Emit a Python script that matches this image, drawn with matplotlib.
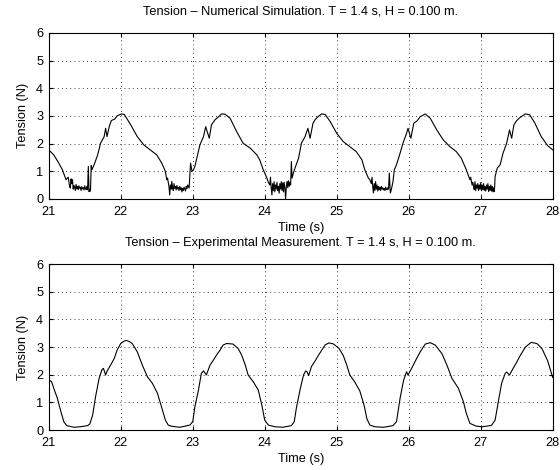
import matplotlib
matplotlib.use("Agg")
import matplotlib.pyplot as plt

plt.rcParams['font.family'] = ['Liberation Sans', 'DejaVu Sans']

# ---------------- data ----------------
sim_t = [21.00, 21.07, 21.14, 21.19, 21.24, 21.27, 21.29, 21.30, 21.31, 21.32, 21.33, 21.34, 21.35, 21.36,
         21.37, 21.38, 21.39, 21.40, 21.41, 21.42, 21.43, 21.44, 21.45, 21.46, 21.47, 21.48, 21.49, 21.50,
         21.51, 21.52, 21.53, 21.54, 21.55, 21.56, 21.57, 21.58, 21.59, 21.60, 21.63, 21.68, 21.72, 21.77,
         21.79, 21.81, 21.84, 21.87, 21.92, 21.95, 22.01, 22.05, 22.14, 22.23, 22.32, 22.41, 22.50, 22.57,
         22.62, 22.64, 22.65, 22.67, 22.68, 22.69, 22.70, 22.71, 22.72, 22.73, 22.74, 22.75, 22.76, 22.77,
         22.78, 22.79, 22.80, 22.81, 22.82, 22.83, 22.84, 22.85, 22.86, 22.87, 22.88, 22.89, 22.90, 22.91,
         22.92, 22.93, 22.95, 22.97, 22.99, 23.01, 23.03, 23.10, 23.15, 23.18, 23.23, 23.26, 23.31, 23.36,
         23.40, 23.45, 23.52, 23.61, 23.70, 23.80, 23.89, 23.93, 23.98, 24.03, 24.05, 24.07, 24.08, 24.09,
         24.10, 24.11, 24.12, 24.13, 24.14, 24.15, 24.16, 24.17, 24.18, 24.19, 24.20, 24.21, 24.22, 24.23,
         24.24, 24.25, 24.26, 24.27, 24.28, 24.29, 24.30, 24.31, 24.32, 24.33, 24.34, 24.35, 24.36, 24.37,
         24.38, 24.40, 24.42, 24.47, 24.51, 24.56, 24.60, 24.63, 24.67, 24.70, 24.74, 24.79, 24.84, 24.91,
         25.00, 25.09, 25.18, 25.27, 25.35, 25.39, 25.44, 25.46, 25.48, 25.49, 25.50, 25.51, 25.52, 25.53,
         25.54, 25.55, 25.56, 25.57, 25.58, 25.59, 25.60, 25.61, 25.62, 25.63, 25.64, 25.65, 25.66, 25.67,
         25.68, 25.69, 25.70, 25.71, 25.72, 25.73, 25.745, 25.76, 25.78, 25.80, 25.83, 25.88, 25.92, 25.97,
         25.99, 26.03, 26.07, 26.12, 26.16, 26.23, 26.30, 26.39, 26.48, 26.57, 26.66, 26.73, 26.80, 26.85,
         26.86, 26.88, 26.89, 26.90, 26.91, 26.92, 26.93, 26.94, 26.95, 26.96, 26.97, 26.98, 26.99, 27.00,
         27.01, 27.02, 27.03, 27.04, 27.05, 27.06, 27.07, 27.08, 27.09, 27.10, 27.11, 27.12, 27.13, 27.14,
         27.15, 27.16, 27.17, 27.18, 27.19, 27.20, 27.23, 27.27, 27.31, 27.36, 27.40, 27.43, 27.46, 27.50,
         27.55, 27.62, 27.68, 27.75, 27.84, 27.93, 28.00]
sim_y = [1.77, 1.59, 1.29, 1.05, 0.69, 0.78, 0.45, 0.39, 0.72, 0.55, 0.69, 0.35, 0.48, 0.42,
         0.30, 0.52, 0.36, 0.45, 0.33, 0.47, 0.38, 0.42, 0.30, 0.44, 0.36, 0.40, 0.32, 0.47,
         0.38, 0.33, 0.45, 0.33, 1.17, 0.26, 0.35, 0.28, 1.20, 1.05, 1.23, 1.59, 2.01, 2.25,
         2.55, 2.25, 2.61, 2.83, 2.89, 3.00, 3.07, 3.05, 2.67, 2.25, 1.95, 1.77, 1.59, 1.29,
         0.99, 0.69, 0.75, 0.45, 0.14, 0.50, 0.35, 0.63, 0.40, 0.30, 0.55, 0.38, 0.44, 0.32,
         0.48, 0.36, 0.42, 0.30, 0.45, 0.33, 0.40, 0.25, 0.38, 0.30, 0.42, 0.35, 0.28, 0.45,
         0.37, 0.50, 0.39, 1.29, 0.99, 1.05, 1.17, 1.95, 2.25, 2.61, 2.19, 2.67, 2.86, 2.97,
         3.07, 3.06, 2.91, 2.43, 2.01, 1.83, 1.59, 1.41, 1.05, 0.75, 0.60, 0.50, 0.78, 0.40,
         0.14, 0.55, 0.30, 0.62, 0.25, 0.50, 0.35, 0.60, 0.30, 0.45, 0.20, 0.55, 0.35, 0.62,
         0.30, 0.58, 0.25, 0.60, 0.40, 0.00, 0.45, 0.63, 0.40, 0.65, 0.45, 0.60, 0.50, 1.35,
         0.75, 0.95, 1.11, 1.47, 2.01, 2.25, 2.55, 2.19, 2.73, 2.86, 2.97, 3.07, 3.05, 2.79,
         2.37, 2.07, 1.89, 1.71, 1.41, 1.05, 0.75, 0.69, 0.55, 0.78, 0.45, 0.21, 0.55, 0.30,
         0.62, 0.35, 0.50, 0.28, 0.45, 0.33, 0.42, 0.30, 0.45, 0.35, 0.40, 0.32, 0.38, 0.30,
         0.42, 0.35, 0.33, 0.40, 0.35, 0.93, 0.21, 0.35, 0.60, 1.05, 1.23, 1.65, 2.01, 2.37,
         2.55, 2.19, 2.73, 2.83, 2.97, 3.07, 2.91, 2.49, 2.13, 1.89, 1.71, 1.47, 1.05, 0.69,
         0.78, 0.50, 0.60, 0.45, 0.33, 0.62, 0.30, 0.50, 0.38, 0.55, 0.30, 0.50, 0.35, 0.58,
         0.30, 0.50, 0.33, 0.55, 0.30, 0.45, 0.28, 0.50, 0.35, 0.55, 0.26, 0.45, 0.30, 0.50,
         0.28, 0.45, 0.25, 0.40, 0.26, 0.81, 1.11, 1.23, 1.65, 2.01, 2.49, 2.19, 2.67, 2.83,
         2.95, 3.07, 3.04, 2.75, 2.25, 1.92, 1.77]

exp_t = [21.00, 21.02, 21.04, 21.07, 21.12, 21.17, 21.21, 21.25, 21.35, 21.44, 21.54, 21.57, 21.61, 21.65,
         21.70, 21.74, 21.76, 21.79, 21.81, 21.86, 21.91, 21.95, 22.00, 22.05, 22.08, 22.12, 22.16, 22.23,
         22.30, 22.37, 22.44, 22.51, 22.58, 22.62, 22.66, 22.70, 22.82, 22.96, 23.00, 23.03, 23.08, 23.12,
         23.15, 23.16, 23.19, 23.24, 23.28, 23.33, 23.38, 23.42, 23.47, 23.56, 23.63, 23.68, 23.73, 23.77,
         23.84, 23.91, 23.96, 24.00, 24.05, 24.14, 24.25, 24.37, 24.41, 24.44, 24.49, 24.54, 24.57, 24.59,
         24.61, 24.65, 24.70, 24.75, 24.80, 24.84, 24.89, 24.95, 25.03, 25.09, 25.14, 25.18, 25.25, 25.32,
         25.38, 25.42, 25.46, 25.53, 25.65, 25.78, 25.83, 25.88, 25.93, 25.97, 25.99, 26.04, 26.11, 26.16,
         26.23, 26.30, 26.37, 26.46, 26.53, 26.60, 26.69, 26.76, 26.80, 26.85, 26.94, 27.03, 27.15, 27.20,
         27.24, 27.29, 27.34, 27.36, 27.40, 27.45, 27.49, 27.55, 27.62, 27.70, 27.78, 27.85, 27.93, 28.00]
exp_y = [1.87, 1.78, 1.75, 1.51, 1.15, 0.66, 0.30, 0.16, 0.10, 0.12, 0.16, 0.22, 0.54, 1.20,
         1.87, 2.19, 2.23, 1.99, 2.13, 2.35, 2.59, 2.89, 3.13, 3.22, 3.24, 3.20, 3.13, 2.83,
         2.35, 1.93, 1.69, 1.33, 0.72, 0.36, 0.18, 0.14, 0.10, 0.18, 0.30, 0.84, 1.45, 2.05,
         2.14, 2.10, 1.99, 2.35, 2.50, 2.71, 2.89, 3.07, 3.13, 3.11, 2.95, 2.71, 2.35, 1.99,
         1.75, 1.45, 0.90, 0.36, 0.18, 0.12, 0.10, 0.16, 0.30, 0.80, 1.45, 2.00, 2.14, 2.10,
         1.97, 2.30, 2.50, 2.72, 2.92, 3.08, 3.15, 3.12, 2.96, 2.70, 2.35, 2.00, 1.74, 1.42,
         0.90, 0.40, 0.18, 0.12, 0.10, 0.16, 0.30, 1.15, 1.81, 2.11, 1.99, 2.23, 2.59, 2.83,
         3.11, 3.16, 3.07, 2.77, 2.35, 1.87, 1.51, 1.02, 0.60, 0.24, 0.14, 0.12, 0.17, 0.36,
         0.96, 1.69, 2.05, 2.10, 1.99, 2.23, 2.41, 2.70, 3.00, 3.17, 3.13, 2.95, 2.50, 1.90]

x_ticks = [21, 22, 23, 24, 25, 26, 27, 28]
y_ticks = [0, 1, 2, 3, 4, 5, 6]
titles = ["Tension \u2013 Numerical Simulation. T = 1.4 s, H = 0.100 m.",
          "Tension \u2013 Experimental Measurement. T = 1.4 s, H = 0.100 m."]
xlabel = "Time (s)"
ylabel = "Tension (N)"

# ---------------- figure ----------------
fig = plt.figure(figsize=(5.6, 4.7), dpi=100)
fs = 9.2
ax1 = fig.add_axes([0.087, 0.577, 0.900, 0.353])
ax2 = fig.add_axes([0.087, 0.085, 0.900, 0.353])

for ax, t, y, title in [(ax1, sim_t, sim_y, titles[0]), (ax2, exp_t, exp_y, titles[1])]:
    ax.plot(t, y, color='black', linewidth=0.8)
    ax.set_xlim(21, 28)
    ax.set_ylim(0, 6)
    ax.set_xticks(x_ticks)
    ax.set_yticks(y_ticks)
    ax.grid(True, linestyle=(0, (1, 4)), color='black', linewidth=0.6)
    ax.tick_params(direction='in', top=True, right=True, length=3, labelsize=fs)
    ax.tick_params(axis='x', pad=5)
    ax.tick_params(axis='y', pad=4)
    ax.set_title(title, fontsize=fs, pad=13)
    ax.set_xlabel(xlabel, fontsize=fs, labelpad=3)
    ax.set_ylabel(ylabel, fontsize=fs, labelpad=5)
    for s in ax.spines.values():
        s.set_linewidth(0.8)

fig.savefig("out.png", dpi=100)
